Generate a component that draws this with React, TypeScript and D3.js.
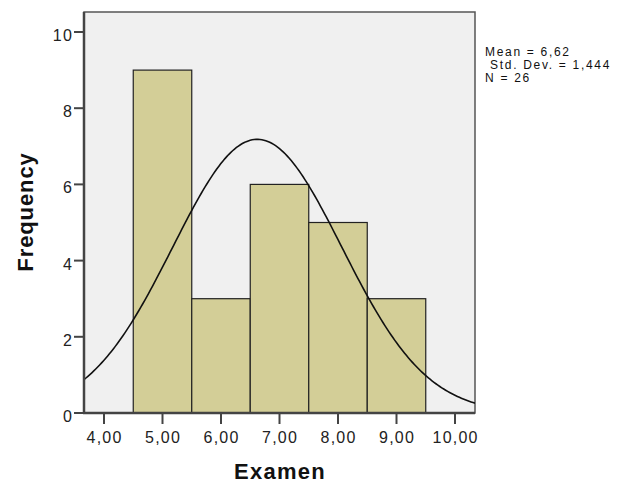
import React from "react";
import * as d3 from "d3";

const binStarts = [4.5, 5.5, 6.5, 7.5, 8.5];
const binWidth = 1;
const frequencies = [9, 3, 6, 5, 3];
const xTicks = [4, 5, 6, 7, 8, 9, 10];
const yTicks = [0, 2, 4, 6, 8, 10];
const mean = 6.62;
const stdDev = 1.444;
const n = 26;
const statLines = ["Mean = 6,62", " Std. Dev. = 1,444", "N = 26"];

export default function App() {
  const W = 617, H = 485;
  const left = 84, right = 475, top = 12, bottom = 413;
  const x = d3.scaleLinear().domain([4, 10]).range([104, 455]);
  const y = d3.scaleLinear().domain([0, 10]).range([413, 32]);
  const xMin = x.invert(left), xMax = x.invert(right);
  const pdf = (v: number) =>
    (n * binWidth) / (stdDev * Math.sqrt(2 * Math.PI)) * Math.exp(-0.5 * ((v - mean) / stdDev) ** 2);
  const pts = d3.range(0, 201).map(i => xMin + (xMax - xMin) * i / 200);
  const line = d3.line<number>().x(v => x(v)).y(v => y(pdf(v))).curve(d3.curveLinear);
  const fmt = (v: number) => v.toFixed(2).replace(".", ",");
  const font = "Liberation Sans, Arial, sans-serif";
  return (
    <svg width={W} height={H} style={{ position: "absolute", left: 0, top: 0 }} fontFamily={font}>
      <rect x={0} y={0} width={W} height={H} fill="#ffffff" />
      <rect x={left} y={top} width={right - left} height={bottom - top} fill="#f0f0f0" stroke="#555" strokeWidth={1.5} />
      <defs>
        <clipPath id="plot">
          <rect x={left} y={top} width={right - left} height={bottom - top} />
        </clipPath>
      </defs>
      {binStarts.map((b, i) => (
        <rect key={i} x={x(b)} y={y(frequencies[i])} width={x(b + binWidth) - x(b)} height={y(0) - y(frequencies[i])}
          fill="#d3ce97" stroke="#222" strokeWidth={1.2} />
      ))}
      <path d={line(pts) || ""} fill="none" stroke="#111" strokeWidth={1.6} clipPath="url(#plot)" />
      <line x1={left} x2={left} y1={top} y2={bottom + 1} stroke="#444" strokeWidth={2.5} />
      <line x1={left - 1} x2={right} y1={bottom} y2={bottom} stroke="#444" strokeWidth={2.5} />
      {yTicks.map(t => (
        <g key={t}>
          <line x1={left - 10} x2={left} y1={y(t)} y2={y(t)} stroke="#444" strokeWidth={2} />
          <text x={left - 11} y={y(t) + 9} textAnchor="end" fontSize={16} letterSpacing={1.2} fill="#222">{t}</text>
        </g>
      ))}
      {xTicks.map(t => (
        <g key={t}>
          <line x1={x(t)} x2={x(t)} y1={bottom} y2={bottom + 11} stroke="#444" strokeWidth={2} />
          <text x={x(t) + 0.6} y={bottom + 30} textAnchor="middle" fontSize={16} letterSpacing={1.2} fill="#222">{fmt(t)}</text>
        </g>
      ))}
      <text x={280} y={479} textAnchor="middle" fontSize={22} letterSpacing={1.3} fontWeight="bold" fill="#111">Examen</text>
      <text transform={`translate(33,212) rotate(-90)`} textAnchor="middle" fontSize={22} letterSpacing={0.9} fontWeight="bold" fill="#111">Frequency</text>
      {statLines.map((s, i) => (
        <text key={i} x={485} y={56 + i * 13} fontSize={12} letterSpacing={1.7} fill="#111" style={{ whiteSpace: "pre" }}>{s}</text>
      ))}
    </svg>
  );
}
